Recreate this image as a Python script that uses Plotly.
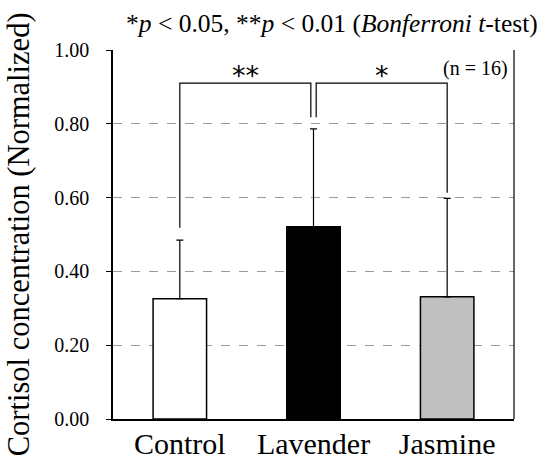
import plotly.graph_objects as go

# ---- data ----
categories = ["Control", "Lavender", "Jasmine"]
means = [0.326, 0.521, 0.331]
sd_upper = [0.159, 0.265, 0.267]
bar_colors = ["#ffffff", "#000000", "#c0c0c0"]
y_ticks = [0.0, 0.2, 0.4, 0.6, 0.8, 1.0]

# significance brackets: (left index, right index, label, left leg bottom, right leg bottom)
comparisons = [
    (0, 1, "**", 0.518, 0.818),
    (1, 2, "*", 0.818, 0.613),
]
bracket_top = 0.91
bracket_gap = 0.02
n_label = "(n = 16)"
title_text = "*<i>p</i> &lt; 0.05, **<i>p</i> &lt; 0.01 (<i>Bonferroni t</i>-test)"
ytitle = "Cortisol concentration (Normalized)"

SERIF = "Liberation Serif"
xs = list(range(len(categories)))

fig = go.Figure()
fig.add_trace(go.Bar(
    x=xs, y=means, width=0.4,
    marker=dict(color=bar_colors, line=dict(color="black", width=1.5)),
    error_y=dict(type="data", array=sd_upper, arrayminus=[0] * len(means),
                 symmetric=False, color="black", thickness=1.2, width=3.5),
    showlegend=False,
))

annotations = []
for i, (a, b, lab, la, lb) in enumerate(comparisons):
    xa = a + (bracket_gap if i > 0 else 0)
    xb = b - (bracket_gap if i < len(comparisons) - 1 else 0)
    fig.add_trace(go.Scatter(
        x=[xa, xa, xb, xb], y=[la, bracket_top, bracket_top, lb],
        mode="lines", line=dict(color="black", width=1.2),
        showlegend=False, hoverinfo="skip",
    ))
    annotations.append(dict(
        x=(xa + xb) / 2, y=bracket_top, xref="x", yref="y",
        text=lab, showarrow=False, yanchor="bottom", yshift=-10,
        font=dict(family="DejaVu Sans", size=27, color="black"),
    ))

annotations.append(dict(
    x=0.99, y=0.951, xref="paper", yref="paper", text=n_label,
    showarrow=False, xanchor="right", yanchor="middle",
    font=dict(family=SERIF, size=20, color="black"),
))
annotations.append(dict(
    x=0.545, y=1.072, xref="paper", yref="paper", text=title_text,
    showarrow=False, xanchor="center", yanchor="middle",
    font=dict(family=SERIF, size=25.5, color="black"),
))
annotations.append(dict(
    x=-0.235, y=0.50, xref="paper", yref="paper", text=ytitle,
    showarrow=False, textangle=-90, xanchor="center", yanchor="middle",
    font=dict(family=SERIF, size=30.5, color="black"),
))

fig.update_layout(
    width=545, height=462,
    margin=dict(l=113, r=31, t=50, b=43, autoexpand=False),
    paper_bgcolor="white", plot_bgcolor="white",
    font=dict(family=SERIF, color="black"),
    annotations=annotations,
    shapes=[dict(type="line", xref="paper", yref="paper", x0=1, x1=1, y0=0, y1=1,
                 line=dict(color="black", width=1.2))],
    xaxis=dict(
        range=[-0.5, 2.5], tickmode="array", tickvals=xs, ticktext=categories,
        showline=True, linecolor="black", linewidth=1.5, ticks="",
        ticklabelstandoff=-3,
        showgrid=False, zeroline=False, automargin=False,
        tickfont=dict(family=SERIF, size=30, color="black"),
    ),
    yaxis=dict(
        range=[0, 1.0], tickmode="array", tickvals=y_ticks,
        tickformat=".2f", ticks="outside", ticklen=5, tickcolor="black",
        ticklabelstandoff=13,
        showline=True, linecolor="black", linewidth=1.5,
        showgrid=True, gridcolor="#9a9a9a", griddash="dash", gridwidth=1,
        zeroline=False, automargin=False,
        tickfont=dict(family=SERIF, size=20, color="black"),
    ),
)

fig.write_html("out.html")
